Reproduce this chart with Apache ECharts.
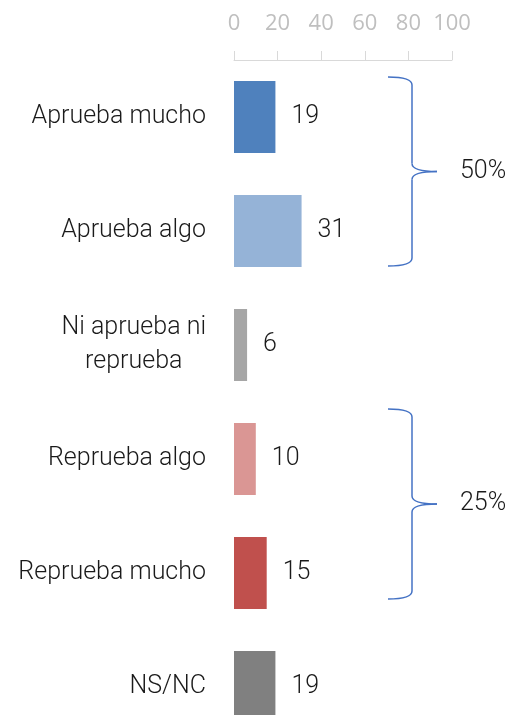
<!DOCTYPE html>
<html>
<head>
<meta charset="utf-8">
<script src="https://cdn.jsdelivr.net/npm/echarts@6/dist/echarts.min.js"></script>
<style>
  html, body { margin: 0; padding: 0; background: #ffffff; }
  #chart { width: 510px; height: 715px; }
</style>
</head>
<body>
<div id="chart"></div>
<script>
  // categorias y valores (%)
  var categories = ['Aprueba mucho', 'Aprueba algo', 'Ni aprueba ni\nreprueba', 'Reprueba algo', 'Reprueba mucho', 'NS/NC'];
  var values = [19, 31, 6, 10, 15, 19];
  var barColors = ['#4f81bd', '#95b3d7', '#a6a6a6', '#da9694', '#c0504d', '#808080'];
  var axisTicks = [0, 20, 40, 60, 80, 100];
  // llaves: [primer indice, ultimo indice, texto]
  var groups = [[0, 1, '50%'], [3, 4, '25%']];

  var FONT = 'Roboto';
  var chart = echarts.init(document.getElementById('chart'));

  var option = {
    animation: false,
    grid: {left: 234, top: 60, width: 218, height: 684, outerBoundsMode: 'none'},
    xAxis: {
      type: 'value',
      position: 'top',
      min: axisTicks[0],
      max: axisTicks[axisTicks.length - 1],
      interval: 20,
      splitLine: {show: false},
      axisLine: {show: true, lineStyle: {color: '#d9d9d9', width: 1}},
      axisTick: {show: true, length: 9, lineStyle: {color: '#d9d9d9'}},
      axisLabel: {color: '#bfbfbf', fontSize: 22, fontFamily: 'Open Sans', margin: 25}
    },
    yAxis: {
      type: 'category',
      inverse: true,
      data: categories,
      axisLine: {show: false},
      axisTick: {show: false},
      axisLabel: {
        margin: 28,
        formatter: function (v) {
          return v.split('\n').map(function (s) { return '{c|' + s + '}'; }).join('\n');
        },
        rich: {
          c: {align: 'center', fontSize: 25, fontFamily: FONT, fontWeight: 300, color: '#1a1a1a', lineHeight: 34}
        }
      }
    },
    series: [{
      type: 'bar',
      barCategoryGap: '37%',
      data: values.map(function (v, i) {
        return {value: v, itemStyle: {color: barColors[i]}};
      }),
      label: {
        show: true,
        position: 'right',
        distance: 16,
        fontSize: 25,
        fontFamily: FONT,
        fontWeight: 300,
        color: '#1a1a1a'
      }
    }]
  };
  chart.setOption(option);

  // dibujar llaves a partir de la escala del eje
  // desplazamientos (px) arriba/abajo de cada llave respecto al centro de la categoria
  var braceOffsets = [[-40, 35], [-50, 26]];
  var graphics = [];
  var braceStyle = {stroke: '#4472c4', lineWidth: 1.5, fill: null};
  groups.forEach(function (g, gi) {
    var y0 = chart.convertToPixel({yAxisIndex: 0}, g[0]) + braceOffsets[gi][0];
    var y1 = chart.convertToPixel({yAxisIndex: 0}, g[1]) + braceOffsets[gi][1];
    var ym = (y0 + y1) / 2;
    var xa = 388, xb = 412, xc = 437;
    var curves = [
      [[xa, y0], [xb, y0], [xb, y0 + 8]],
      [[xb, ym - 8], [xb, ym], [xc, ym]],
      [[xc, ym], [xb, ym], [xb, ym + 8]],
      [[xb, y1 - 8], [xb, y1], [xa, y1]]
    ];
    curves.forEach(function (c) {
      graphics.push({
        type: 'bezierCurve',
        shape: {x1: c[0][0], y1: c[0][1], cpx1: c[1][0], cpy1: c[1][1], x2: c[2][0], y2: c[2][1]},
        style: braceStyle
      });
    });
    graphics.push({type: 'line', shape: {x1: xb, y1: y0 + 8, x2: xb, y2: ym - 8}, style: braceStyle});
    graphics.push({type: 'line', shape: {x1: xb, y1: ym + 8, x2: xb, y2: y1 - 8}, style: braceStyle});
    graphics.push({
      type: 'text',
      x: 460,
      y: ym,
      style: {
        text: g[2],
        fontSize: 25,
        fontFamily: FONT,
        fontWeight: 300,
        fill: '#1a1a1a',
        verticalAlign: 'middle'
      }
    });
  });
  chart.setOption({graphic: graphics});
</script>
</body>
</html>
